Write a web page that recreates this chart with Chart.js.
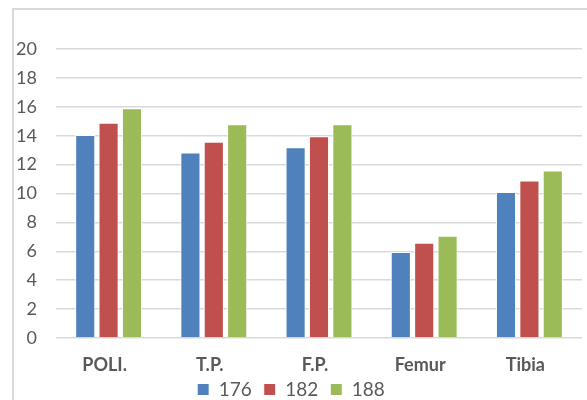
<!DOCTYPE html>
<html>
<head>
<meta charset="utf-8">
<script src="https://cdn.jsdelivr.net/npm/chart.js@4/dist/chart.umd.min.js"></script>
<style>
  html, body { margin: 0; padding: 0; background: #ffffff; }
  #wrap { position: relative; width: 587px; height: 400px; overflow: hidden; }
  #frame { position: absolute; left: 12px; top: 8px; width: 600px; height: 420px;
           border-top: 2px solid #d9d9d9; border-left: 2px solid #d9d9d9; box-sizing: border-box; }
  canvas { position: absolute; left: 0; top: 0; }
</style>
</head>
<body>
<div id="wrap">
  <div id="frame"></div>
  <canvas id="chart" width="587" height="400"></canvas>
</div>
<script>
// Bone measurements per group
const categories = ['POLI.', 'T.P.', 'F.P.', 'Femur', 'Tibia'];
const series176 = [14.05, 12.83, 13.2, 5.95, 10.1];
const series182 = [14.9, 13.58, 13.97, 6.6, 10.9];
const series188 = [15.9, 14.8, 14.8, 7.08, 11.6];
const seriesNames = ['176', '182', '188'];
const yTicks = [0, 2, 4, 6, 8, 10, 12, 14, 16, 18, 20];

const colors = ['#4F81BD', '#C0504D', '#9BBB59'];
const FONT = 'Lato, "Open Sans", sans-serif';
const TEXT = '#595959';

const datasets = [series176, series182, series188].map((vals, i) => ({
  label: seriesNames[i],
  data: vals,
  backgroundColor: colors[i],
  borderColor: '#ffffff',
  borderWidth: 1,
  categoryPercentage: 0.667,
  barPercentage: 0.86
}));

// Nudge the legend row a little closer to the axis labels
const legendNudge = {
  id: 'legendNudge',
  afterLayout(chart) {
    const lg = chart.legend;
    if (!lg) return;
    lg.top -= 4;
    lg.bottom -= 4;
  }
};

new Chart(document.getElementById('chart'), {
  type: 'bar',
  data: { labels: categories, datasets },
  plugins: [legendNudge],
  options: {
    responsive: false,
    animation: false,
    layout: { padding: { top: 49, right: 5, left: 0, bottom: 0 } },
    plugins: {
      tooltip: { enabled: false },
      legend: {
        position: 'bottom',
        maxHeight: 28,
        labels: {
          boxWidth: 12,
          boxHeight: 12,
          padding: 12,
          color: TEXT,
          font: { family: FONT, size: 19 }
        }
      }
    },
    scales: {
      x: {
        grid: { display: false },
        border: { display: false },
        ticks: {
          color: TEXT,
          padding: 8,
          labelOffset: -4,
          font: { family: FONT, size: 18, weight: 'bold' }
        },
        afterFit: (s) => { s.height = 34; }
      },
      y: {
        min: 0,
        max: 20,
        afterBuildTicks: (s) => { s.ticks = yTicks.map(v => ({ value: v })); },
        grid: { color: '#d9d9d9', lineWidth: 1.5, drawTicks: false },
        border: { display: false },
        ticks: {
          color: TEXT,
          padding: 19,
          font: { family: FONT, size: 18 }
        },
        afterFit: (s) => { s.width = 56; }
      }
    }
  }
});
</script>
</body>
</html>
